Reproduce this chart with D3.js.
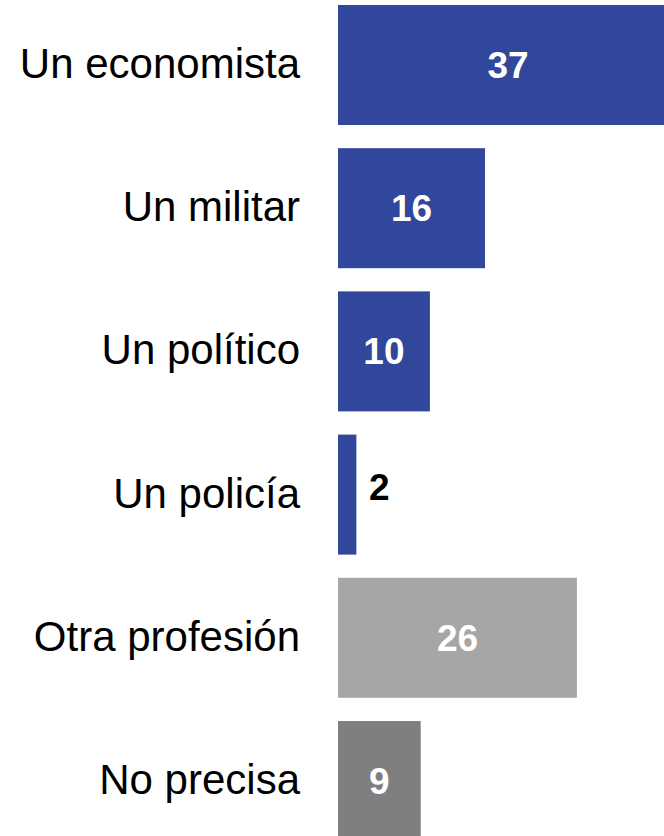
<!DOCTYPE html>
<html><head><meta charset="utf-8">
<script src="https://cdn.jsdelivr.net/npm/d3@7"></script>
<style>html,body{margin:0;padding:0;background:#fff;overflow:hidden}</style>
</head><body>
<script>
const categories = ["Un economista","Un militar","Un político","Un policía","Otra profesión","No precisa"];
const values = [37,16,10,2,26,9];
const colors = ["#30479B","#30479B","#30479B","#30479B","#A6A6A6","#7F7F7F"];

const W = 664, H = 836;
const svg = d3.select("body").append("svg").attr("width", W).attr("height", H);

const x = d3.scaleLinear().domain([0, 37]).range([338, 678]);
const y = d3.scaleBand().domain(categories).range([5, 841]).paddingInner(0.162).paddingOuter(0);

const data = categories.map((c,i)=>({c, v: values[i], col: colors[i]}));

svg.selectAll("rect.bar").data(data).enter().append("rect")
  .attr("class","bar")
  .attr("x", x(0))
  .attr("y", d=>y(d.c))
  .attr("width", d=>x(d.v)-x(0))
  .attr("height", y.bandwidth())
  .attr("fill", d=>d.col);

svg.selectAll("text.cat").data(data).enter().append("text")
  .attr("class","cat")
  .attr("x", 300)
  .attr("y", d=>y(d.c)+y.bandwidth()/2+13)
  .attr("text-anchor","end")
  .attr("font-family","Liberation Sans, Arial, sans-serif")
  .attr("font-size", 42)
  .attr("fill","#000")
  .text(d=>d.c);

svg.selectAll("text.val").data(data).enter().append("text")
  .attr("class","val")
  .attr("x", d=> (x(d.v)-x(0)) < 40 ? x(d.v)+23 : (x(0)+Math.min(x(d.v),W))/2 + (x(d.v)>W ? 7 : 0))
  .attr("y", d=>y(d.c)+y.bandwidth()/2 + ((x(d.v)-x(0)) < 40 ? 5 : 13))
  .attr("text-anchor","middle")
  .attr("font-family","Liberation Sans, Arial, sans-serif")
  .attr("font-weight","bold")
  .attr("font-size", 37)
  .attr("fill", d=> (x(d.v)-x(0)) < 40 ? "#000" : "#fff")
  .text(d=>d.v);
</script>
</body></html>
